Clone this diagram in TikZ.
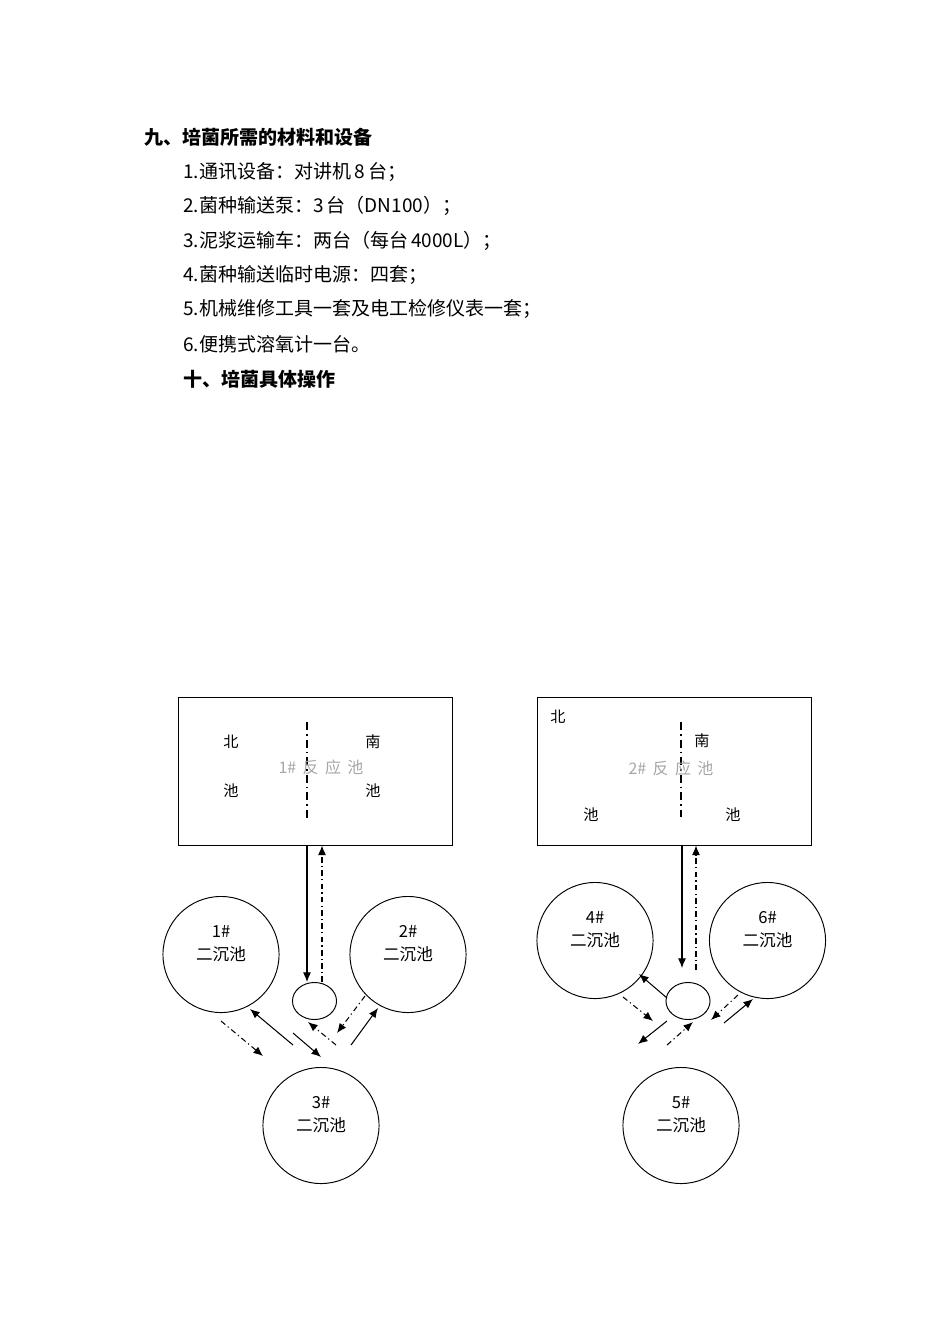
\documentclass[tikz,border=0pt]{standalone}
\usepackage{fontspec}
\setmainfont{Noto Sans CJK SC}
\usetikzlibrary{arrows.meta,shapes.geometric}

\begin{document}
\begin{tikzpicture}[x=0.6263pt,y=-0.6263pt]
\tikzset{every node/.style={inner sep=0pt}}
\tikzset{body/.style={anchor=west,font=\fontsize{11.9}{14}\selectfont}}
\tikzset{head/.style={anchor=west,font=\fontsize{11.9}{14}\selectfont\bfseries}}
\tikzset{tank/.style={draw,line width=0.6pt,minimum width=171.6pt,minimum height=92.7pt}}
\tikzset{pool/.style={draw,circle,line width=0.6pt,minimum size=72.7pt}}
\tikzset{pump/.style={draw,ellipse,line width=0.6pt,minimum width=27.6pt,minimum height=23.2pt}}
\tikzset{poolname/.style={align=center,font=\fontsize{10.4}{15}\selectfont}}
\tikzset{side/.style={font=\fontsize{9.5}{11}\selectfont}}
\tikzset{ghost/.style={text=black!35,font=\fontsize{10}{12}\selectfont}}
\tikzset{flow/.style={line width=0.65pt,-{Latex[length=6pt,width=5pt]}}}
\tikzset{back/.style={flow,dash pattern=on 3.5pt off 2pt on 0.8pt off 2pt}}
\tikzset{divide/.style={line width=1.3pt,dash pattern=on 5pt off 2.5pt on 1pt off 2.5pt}}

\useasboundingbox (0,0) rectangle (950,1344);

% text above the plan
\node[head] (h9) at (144,137) {九、培菌所需的材料和设备};
\node[body] (i1) at (183,172) {1.通讯设备：对讲机\,8\,台；};
\node[body] (i2) at (183,206) {2.菌种输送泵：3\,台（DN100）；};
\node[body] (i3) at (183,241) {3.泥浆运输车：两台（每台\,4000L）；};
\node[body] (i4) at (183,275) {4.菌种输送临时电源：四套；};
\node[body] (i5) at (183,309) {5.机械维修工具一套及电工检修仪表一套；};
\node[body] (i6) at (183,344) {6.便携式溶氧计一台。};
\node[head] (h10) at (183,379) {十、培菌具体操作};

% 1# reaction tank
\node[tank] (tank1) at (315,771) {};
\draw[divide] (307,722) -- (307,820);
\node[side] (n1) at (231,742) {北};
\node[side] (s1) at (373,742) {南};
\node[side] (n1b) at (231,791) {池};
\node[side] (s1b) at (373,791) {池};
\node[ghost] (g1) at (321,767) {1\#\hspace{4pt}反\hspace{4pt}应\hspace{4pt}池};

% 2# reaction tank
\node[tank] (tank2) at (674.5,771) {};
\draw[divide] (681,722) -- (681,817);
\node[side] (n2) at (558,717) {北};
\node[side] (s2) at (702,741) {南};
\node[side] (n2b) at (591,815) {池};
\node[side] (s2b) at (733,815) {池};
\node[ghost] (g2) at (671,768) {2\#\hspace{4pt}反\hspace{4pt}应\hspace{4pt}池};

% clarifiers and pumps
\node[pool] (c1) at (221,954.5) {};
\node[pool] (c2) at (408,954.5) {};
\node[pool] (c3) at (321,1125.5) {};
\node[pool] (c4) at (595,940.5) {};
\node[pool] (c6) at (767.5,940.5) {};
\node[pool] (c5) at (681,1125.5) {};
\node[pump] (p1) at (314.5,1001) {};
\node[pump] (p2) at (688,1001) {};

\node[poolname] at ([yshift=6.8pt]c1.center) {1\#\\二沉池};
\node[poolname] at ([yshift=6.8pt]c2.center) {2\#\\二沉池};
\node[poolname] at ([yshift=6.8pt]c3.center) {3\#\\二沉池};
\node[poolname] at ([yshift=6.8pt]c4.center) {4\#\\二沉池};
\node[poolname] at ([yshift=6.8pt]c6.center) {6\#\\二沉池};
\node[poolname] at ([yshift=6.8pt]c5.center) {5\#\\二沉池};

% left group
\draw[flow] (307,0 |- tank1.south) -- (307,0 |- p1.north);
\draw[back] (322,0 |- p1.north) -- (322,0 |- tank1.south);
\coordinate (a1) at (221,1021);  \coordinate (b1) at (263,1056);
\coordinate (a2) at (293,1045);  \coordinate (b2) at (250,1009);
\coordinate (a3) at (293,1033);  \coordinate (b3) at (321,1057);
\coordinate (a4) at (336,1045);  \coordinate (b4) at (308,1022);
\coordinate (a5) at (365,996);   \coordinate (b5) at (337,1033);
\coordinate (a6) at (351,1045);  \coordinate (b6) at (378,1008);
\draw[back] (a1) -- (b1);
\draw[flow] (a2) -- (b2);
\draw[flow] (a3) -- (b3);
\draw[back] (a4) -- (b4);
\draw[back] (a5) -- (b5);
\draw[flow] (a6) -- (b6);

% right group
\coordinate (r-in) at (682,968);
\coordinate (r-out) at (696,970);
\draw[flow] (682,0 |- tank2.south) -- (r-in);
\draw[back] (r-out) -- (696,0 |- tank2.south);
\coordinate (d1) at (667,998);   \coordinate (e1) at (639,974);
\coordinate (d2) at (623,997);   \coordinate (e2) at (653,1021);
\coordinate (d3) at (667,1021);  \coordinate (e3) at (638,1044);
\coordinate (d4) at (667,1045);  \coordinate (e4) at (693,1022);
\coordinate (d5) at (738,995);   \coordinate (e5) at (711,1020);
\coordinate (d6) at (724,1023);  \coordinate (e6) at (753,999);
\draw[flow] (d1) -- (e1);
\draw[back] (d2) -- (e2);
\draw[flow] (d3) -- (e3);
\draw[back] (d4) -- (e4);
\draw[back] (d5) -- (e5);
\draw[flow] (d6) -- (e6);

\end{tikzpicture}
\end{document}
